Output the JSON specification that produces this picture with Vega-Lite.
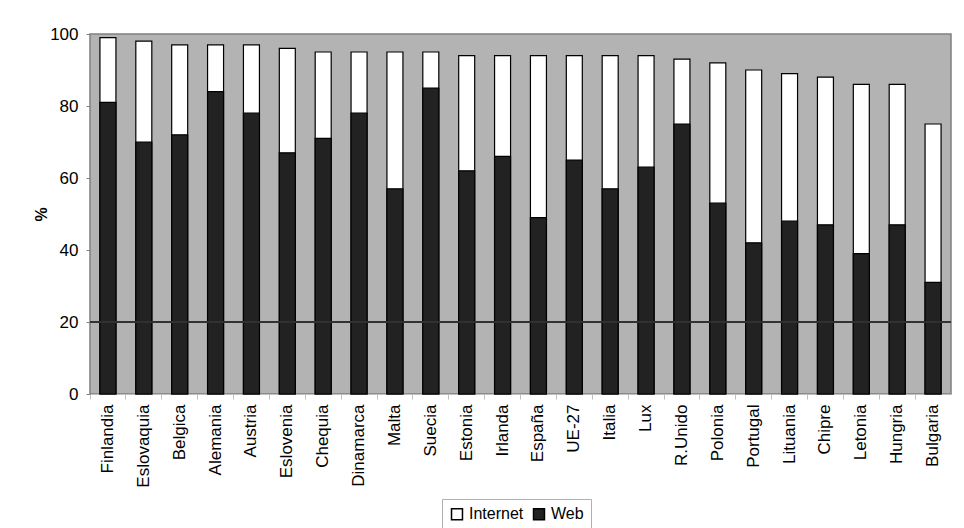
{
  "$schema": "https://vega.github.io/schema/vega-lite/v6.json",
  "autosize": {"type": "none"},
  "width": 861,
  "height": 360,
  "padding": {"left": 90, "top": 34, "right": 13, "bottom": 134},
  "background": "white",
  "config": {
    "font": "Liberation Sans",
    "view": {"fill": "#b3b3b3", "stroke": "#808080", "strokeWidth": 1.5}
  },
  "data": {"values": [
    {"pais": "Finlandia", "serie": "Internet", "valor": 99},
    {"pais": "Eslovaquia", "serie": "Internet", "valor": 98},
    {"pais": "Belgica", "serie": "Internet", "valor": 97},
    {"pais": "Alemania", "serie": "Internet", "valor": 97},
    {"pais": "Austria", "serie": "Internet", "valor": 97},
    {"pais": "Eslovenia", "serie": "Internet", "valor": 96},
    {"pais": "Chequia", "serie": "Internet", "valor": 95},
    {"pais": "Dinamarca", "serie": "Internet", "valor": 95},
    {"pais": "Malta", "serie": "Internet", "valor": 95},
    {"pais": "Suecia", "serie": "Internet", "valor": 95},
    {"pais": "Estonia", "serie": "Internet", "valor": 94},
    {"pais": "Irlanda", "serie": "Internet", "valor": 94},
    {"pais": "España", "serie": "Internet", "valor": 94},
    {"pais": "UE-27", "serie": "Internet", "valor": 94},
    {"pais": "Italia", "serie": "Internet", "valor": 94},
    {"pais": "Lux", "serie": "Internet", "valor": 94},
    {"pais": "R.Unido", "serie": "Internet", "valor": 93},
    {"pais": "Polonia", "serie": "Internet", "valor": 92},
    {"pais": "Portugal", "serie": "Internet", "valor": 90},
    {"pais": "Lituania", "serie": "Internet", "valor": 89},
    {"pais": "Chipre", "serie": "Internet", "valor": 88},
    {"pais": "Letonia", "serie": "Internet", "valor": 86},
    {"pais": "Hungria", "serie": "Internet", "valor": 86},
    {"pais": "Bulgaria", "serie": "Internet", "valor": 75},
    {"pais": "Finlandia", "serie": "Web", "valor": 81},
    {"pais": "Eslovaquia", "serie": "Web", "valor": 70},
    {"pais": "Belgica", "serie": "Web", "valor": 72},
    {"pais": "Alemania", "serie": "Web", "valor": 84},
    {"pais": "Austria", "serie": "Web", "valor": 78},
    {"pais": "Eslovenia", "serie": "Web", "valor": 67},
    {"pais": "Chequia", "serie": "Web", "valor": 71},
    {"pais": "Dinamarca", "serie": "Web", "valor": 78},
    {"pais": "Malta", "serie": "Web", "valor": 57},
    {"pais": "Suecia", "serie": "Web", "valor": 85},
    {"pais": "Estonia", "serie": "Web", "valor": 62},
    {"pais": "Irlanda", "serie": "Web", "valor": 66},
    {"pais": "España", "serie": "Web", "valor": 49},
    {"pais": "UE-27", "serie": "Web", "valor": 65},
    {"pais": "Italia", "serie": "Web", "valor": 57},
    {"pais": "Lux", "serie": "Web", "valor": 63},
    {"pais": "R.Unido", "serie": "Web", "valor": 75},
    {"pais": "Polonia", "serie": "Web", "valor": 53},
    {"pais": "Portugal", "serie": "Web", "valor": 42},
    {"pais": "Lituania", "serie": "Web", "valor": 48},
    {"pais": "Chipre", "serie": "Web", "valor": 47},
    {"pais": "Letonia", "serie": "Web", "valor": 39},
    {"pais": "Hungria", "serie": "Web", "valor": 47},
    {"pais": "Bulgaria", "serie": "Web", "valor": 31}
  ]},
  "layer": [
    {
      "mark": {"type": "bar", "width": 16, "stroke": "black", "strokeWidth": 1.2},
      "encoding": {
        "x": {
          "field": "pais", "type": "nominal", "sort": null,
          "scale": {"paddingInner": 0, "paddingOuter": 0},
          "axis": {
            "title": null, "labelAngle": -90, "labelFontSize": 17, "labelColor": "black",
            "labelPadding": 5, "domainColor": "#c0c0c0", "tickColor": "#c0c0c0", "tickSize": 5,
            "bandPosition": 0
          }
        },
        "y": {
          "field": "valor", "type": "quantitative", "stack": null,
          "scale": {"domain": [0, 100], "nice": false},
          "axis": {
            "title": "%", "titleFontSize": 16, "titleFontWeight": "bold", "titleColor": "black",
            "titlePadding": 0,
            "values": [0, 20, 40, 60, 80, 100], "grid": false,
            "labelFontSize": 17, "labelColor": "black", "labelPadding": 8,
            "domain": false, "tickColor": "#808080", "tickSize": 4
          }
        },
        "color": {
          "field": "serie", "type": "nominal",
          "scale": {"domain": ["Internet", "Web"], "range": ["white", "#222222"]},
          "legend": {
            "title": null, "orient": "none", "direction": "horizontal",
            "legendX": 352, "legendY": 465,
            "symbolType": "square", "symbolSize": 120, "symbolStrokeColor": "black", "symbolStrokeWidth": 1.5,
            "labelFontSize": 16, "labelColor": "black", "columnPadding": 6, "labelOffset": 4,
            "strokeColor": "#b0b0b0", "padding": 7
          }
        }
      }
    },
    {
      "mark": {"type": "rule", "color": "#333333", "strokeWidth": 0.8},
      "encoding": {"y": {"datum": 20}}
    }
  ]
}
